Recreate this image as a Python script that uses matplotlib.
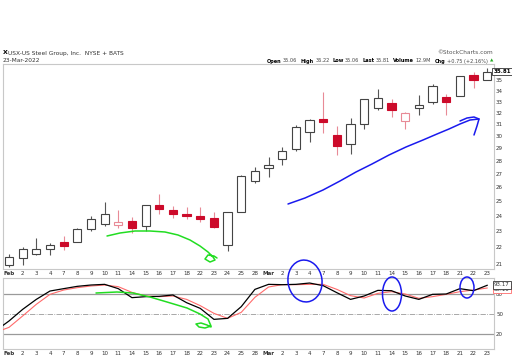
import matplotlib.pyplot as plt
from matplotlib.patches import Ellipse

# trading days shown on the x axis
days = ['Feb', '2', '3', '4', '7', '8', '9', '10', '11', '14', '15', '16', '17', '18',
        '22', '23', '24', '25', '28', 'Mar', '2', '3', '4', '7', '8', '9', '10', '11',
        '14', '15', '16', '17', '18', '21', '22', '23']

# daily candles
opens = [20.92, 21.35, 21.59, 21.90, 22.34, 22.34, 23.17, 23.45, 23.38, 23.70, 23.36, 24.72,
         24.37, 24.16, 23.98, 23.89, 22.15, 24.28, 26.44, 27.41, 28.13, 28.90, 30.34, 31.41,
         30.09, 29.31, 31.00, 32.37, 32.83, 31.29, 32.37, 32.91, 33.45, 33.55, 35.53, 35.06]
highs = [21.61, 22.00, 22.57, 22.28, 22.72, 23.20, 23.98, 24.93, 24.37, 23.94, 24.76, 25.48,
         24.65, 24.63, 24.58, 24.26, 24.30, 26.90, 27.47, 28.28, 29.05, 30.90, 31.47, 33.90,
         30.86, 31.56, 33.26, 34.16, 33.19, 32.09, 33.65, 34.66, 33.68, 35.47, 35.80, 36.22]
lows = [20.85, 20.92, 21.55, 21.53, 21.82, 22.30, 23.00, 23.36, 23.21, 22.87, 23.04, 24.16,
        23.85, 23.79, 23.60, 23.21, 21.80, 24.25, 26.30, 26.73, 27.67, 28.72, 29.45, 30.23,
        28.41, 28.49, 30.57, 32.23, 31.62, 30.54, 31.79, 32.80, 31.79, 33.48, 34.31, 35.06]
closes = [21.41, 21.88, 21.90, 22.11, 22.08, 23.15, 23.81, 24.14, 23.62, 23.21, 24.72, 24.47,
          24.12, 23.98, 23.77, 23.30, 24.28, 26.85, 27.18, 27.67, 28.72, 30.74, 31.35, 31.15,
          29.19, 31.00, 33.19, 33.29, 32.20, 32.00, 32.66, 34.44, 32.91, 35.38, 35.06, 35.81]

# slow stochastic, first value is Jan 31 (just off the left edge)
stoch_k = [24.2, 39.2, 56.8, 71.9, 84.5, 88.1, 91.6, 93.6, 94.6, 88.1, 74.5, 76.0, 76.5,
           78.5, 66.9, 58.3, 41.7, 43.2, 60.9, 87.0, 94.6, 94.1, 94.6, 96.6, 92.6, 82.0,
           71.9, 77.0, 85.5, 85.0, 77.0, 71.9, 79.5, 80.0, 88.1, 85.0, 93.17]
stoch_d = [21.9, 29.6, 46.8, 64.4, 79.5, 86.0, 89.6, 92.1, 93.6, 91.1, 82.5, 77.0, 76.0,
           77.0, 71.9, 62.4, 50.8, 43.2, 52.3, 75.0, 90.6, 94.1, 94.1, 94.6, 94.6, 87.0,
           77.5, 74.0, 81.0, 83.5, 80.0, 73.5, 76.0, 79.5, 83.5, 86.0, 89.1]

price_ticks = list(range(21, 37))

# hand drawn markup, in image pixels
green_top = [(107, 236), (120, 233), (135, 231), (150, 231), (165, 232), (178, 235),
             (190, 240), (200, 246), (208, 252), (213, 257), (215, 260), (210, 262),
             (205, 259), (208, 255), (214, 256), (217, 258)]
green_bot = [(96, 293), (117, 292), (133, 293), (150, 297), (167, 302), (187, 308),
             (200, 314), (208, 319), (211, 326), (205, 328), (199, 327), (196, 324),
             (201, 323), (207, 325), (211, 327)]
blue_arrow = [(288, 204), (305, 198), (323, 190), (340, 181), (356, 172), (372, 164),
              (389, 155), (406, 147), (423, 140), (437, 134), (449, 129), (460, 124),
              (470, 120), (479, 119)]
blue_head = [(460, 121), (467, 118), (474, 117), (479, 119), (477, 126), (474, 135)]
blue_rings = [(305, 281, 34, 42, -8), (392, 294, 19, 34, 0), (467, 287.5, 14, 21, 0)]

W, H = 512, 357
fig = plt.figure(figsize=(W / 100, H / 100), dpi=100)


def frac(x0, y0, x1, y1):
    return [x0 / W, 1 - y1 / H, (x1 - x0) / W, (y1 - y0) / H]


ax = fig.add_axes(frac(2.7, 64, 494, 269))
ax2 = fig.add_axes(frac(2.7, 278, 494, 349))

idx = list(range(len(days)))
edge = '#c8c8c8'
red = '#cc0a2a'
pink = '#e88a96'

for i in idx:
    o, h, l, c = opens[i], highs[i], lows[i], closes[i]
    is_red = i > 0 and c < closes[i - 1]
    wick = pink if is_red else '#555555'
    body_edge = red if is_red else '#444444'
    ax.vlines(i, l, h, color=wick, lw=0.8, zorder=2)
    lo, hi = min(o, c), max(o, c)
    face = 'white' if c >= o else (red if is_red else '#444444')
    if c >= o and is_red:
        body_edge = pink
    ax.bar(i, hi - lo, bottom=lo, width=0.6, color=face, edgecolor=body_edge,
           linewidth=0.8, zorder=3)

ax.set_yscale('log')
ax.set_ylim(20.71, 36.63)
ax.set_xlim(-0.46, 35.5)
ax.yaxis.tick_right()
ax.set_yticks(price_ticks)
ax.set_yticklabels([str(t) for t in price_ticks])
ax.minorticks_off()

k_x = [-1] + idx
ax2.plot(k_x, stoch_d, color='#ff6b6b', lw=0.8, zorder=3)
ax2.plot(k_x, stoch_k, color='black', lw=0.9, zorder=4)
ax2.axhline(80, color='#9a9a9a', lw=0.9, zorder=1)
ax2.axhline(20, color='#9a9a9a', lw=0.9, zorder=1)
ax2.axhline(50, color='#9a9a9a', lw=0.6, ls='-.', zorder=1)
ax2.set_xlim(-0.46, 35.5)
ax2.set_ylim(-3.1, 104.2)
ax2.yaxis.tick_right()
ax2.set_yticks([20, 50, 80])

for a in (ax, ax2):
    for s in a.spines.values():
        s.set_color(edge)
        s.set_linewidth(0.8)
    a.set_xticks(idx)
    a.set_xticklabels(days)
    a.tick_params(length=0, labelsize=4, colors='#333333', pad=1.5)
    for lab in a.get_xticklabels():
        if lab.get_text() in ('Feb', 'Mar'):
            lab.set_fontweight('bold')

# overlay in pixel coordinates for header text and markup
ov = fig.add_axes([0, 0, 1, 1], zorder=10)
ov.set_xlim(0, W)
ov.set_ylim(H, 0)
ov.axis('off')

ov.text(2.7, 53, 'X', fontsize=4.5, fontweight='bold', va='center', ha='left')
ov.text(8, 53, 'USX-US Steel Group, Inc.  NYSE + BATS', fontsize=4.2, va='center',
        ha='left', color='#333333')
ov.text(2.7, 60.5, '23-Mar-2022', fontsize=4.2, va='center', ha='left', color='#333333')
ov.text(493, 53, '\u00a9StockCharts.com', fontsize=4.2, va='center', ha='right',
        color='#555555')

# stats line, laid out word by word to span x 267..488
parts = [('Open', True), ('35.06', False), ('High', True), ('36.22', False),
         ('Low', True), ('35.06', False), ('Last', True), ('35.81', False),
         ('Volume', True), ('12.9M', False), ('Chg', True), ('+0.75 (+2.16%)', False)]
r = fig.canvas.get_renderer()
fs = 4.2
widths = []
for word, bold in parts:
    t = ov.text(0, 0, word, fontsize=fs, fontweight='bold' if bold else 'normal')
    widths.append(t.get_window_extent(renderer=r).width)
    t.remove()
gaps = [1.2 if bold else 3.2 for _, bold in parts[:-1]]
scale = (488 - 267 - sum(gaps)) / sum(widths)
fs *= scale
x = 267
for (word, bold), w, g in zip(parts, widths, gaps + [0]):
    ov.text(x, 61, word, fontsize=fs, fontweight='bold' if bold else 'normal',
            va='center', ha='left', color='black' if bold else '#444444')
    x += w * scale + g
ov.text(490, 61, '\u25b2', fontsize=3.2, color='#22aa22', va='center', ha='left')

# last value badges
ov.text(502, 71.5, '35.81', fontsize=4, fontweight='bold', ha='center', va='center',
        bbox=dict(boxstyle='square,pad=0.2', fc='white', ec='#333333', lw=0.6))
ov.text(502, 289.5, '89.10', fontsize=4, ha='center', va='center', color='#333333',
        bbox=dict(boxstyle='square,pad=0.2', fc='white', ec='#ff6b6b', lw=0.6))
ov.text(502, 285, '93.17', fontsize=4, ha='center', va='center', color='#333333',
        bbox=dict(boxstyle='square,pad=0.2', fc='white', ec='#333333', lw=0.6))

# markup
for pts, col in ((green_top, '#22dd22'), (green_bot, '#22dd22'),
                 (blue_arrow, '#1a1aee'), (blue_head, '#1a1aee')):
    ov.plot([p[0] for p in pts], [p[1] for p in pts], color=col, lw=1.1,
            solid_capstyle='round', solid_joinstyle='round')
for cx, cy, w, h, ang in blue_rings:
    ov.add_patch(Ellipse((cx, cy), w, h, angle=ang, fill=False, ec='#1a1aee', lw=1.1))

fig.savefig('out.png', dpi=100)
